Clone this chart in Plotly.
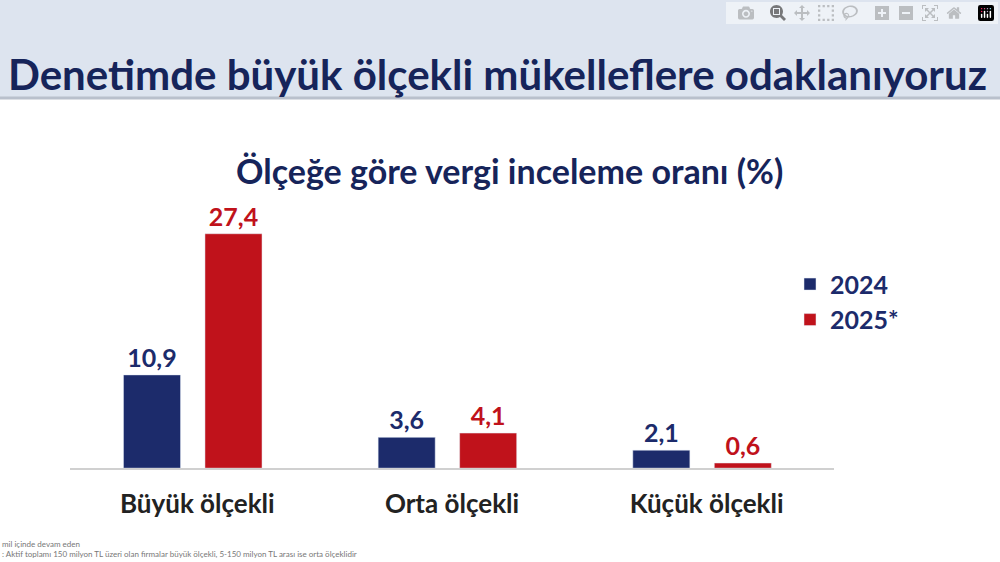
import plotly.graph_objects as go

categories = ["Büyük ölçekli", "Orta ölçekli", "Küçük ölçekli"]
values_2024 = [10.9, 3.6, 2.1]
values_2025 = [27.4, 4.1, 0.6]
series_names = ["2024", "2025*"]

NAVY = "#1c2b6b"
RED = "#c0121b"
FONT = "Lato"

def tr(v):
    return f"{v:.1f}".replace(".", ",")

fig = go.Figure()
for name, vals, color, off in [(series_names[0], values_2024, NAVY, -0.29),
                                (series_names[1], values_2025, RED, 0.03)]:
    fig.add_trace(go.Bar(
        x=categories, y=vals, name=name, marker_color=color,
        width=0.224, offset=off,
        text=[tr(v) for v in vals], textposition="outside", cliponaxis=False,
        textfont=dict(family=FONT, size=25, color=color, weight="bold"),
    ))

fig.update_layout(
    width=1000, height=562, margin=dict(l=0, r=0, t=0, b=0),
    paper_bgcolor="white", plot_bgcolor="white", barmode="group",
    font=dict(family=FONT),
    xaxis=dict(domain=[0.07, 0.834], showline=True, linecolor="#d0d0d0", linewidth=2,
               tickfont=dict(size=26, color="#222", weight="bold"), ticklen=0,
               ticks="", ticklabelstandoff=12),
    yaxis=dict(domain=[0.167, 0.68], range=[0, 33.7], visible=False),
    legend=dict(x=0.79, y=0.535, xanchor="left", yanchor="top",
                font=dict(size=25, color=NAVY, weight="bold"), tracegroupgap=10,
                itemwidth=30),
    shapes=[
        dict(type="rect", xref="paper", yref="paper", x0=0, x1=1, y0=1 - 97 / 562, y1=1,
             fillcolor="#dde4ef", line_width=0, layer="below"),
        dict(type="line", xref="paper", yref="paper", x0=0, x1=1, y0=1 - 98 / 562, y1=1 - 98 / 562,
             line=dict(color="#b9c0cc", width=3)),
    ],
    annotations=[
        dict(text="Denetimde büyük ölçekli mükelleflere odaklanıyoruz",
             xref="paper", yref="paper", x=0.497, y=1 - 47 / 562,
             showarrow=False, font=dict(size=42, color="#16245a", weight="bold")),
        dict(text="Ölçeğe göre vergi inceleme oranı (%)", xref="paper", yref="paper",
             x=0.509, y=1 - 148 / 562, showarrow=False,
             font=dict(size=34, color="#16245a", weight="bold")),
        dict(text="mil içinde devam eden<br>: Aktif toplamı 150 milyon TL üzeri olan firmalar büyük ölçekli, 5-150 milyon TL arası ise orta ölçeklidir",
             xref="paper", yref="paper", x=0, y=0.002, xanchor="left", yanchor="bottom",
             align="left", showarrow=False, font=dict(size=8, color="#777")),
    ],
)

fig.write_html("out.html", post_script="document.body.style.margin='0';")
